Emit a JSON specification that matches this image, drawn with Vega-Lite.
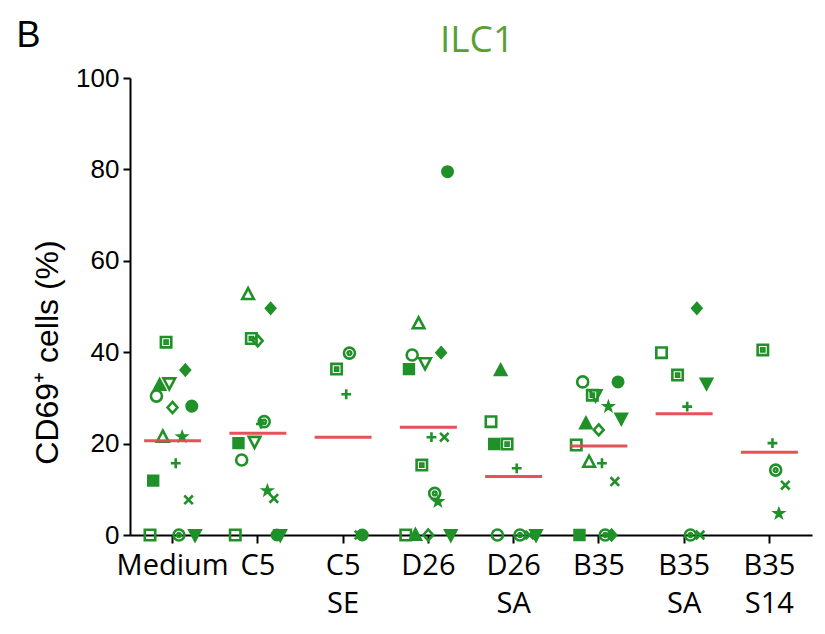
{
  "$schema": "https://vega.github.io/schema/vega-lite/v6.json",
  "width": 682,
  "height": 457,
  "autosize": "none",
  "padding": {"left": 130, "top": 78, "right": 13, "bottom": 99},
  "background": "white",
  "title": {
    "text": "ILC1",
    "font": "Open Sans",
    "fontSize": 37,
    "fontWeight": "normal",
    "color": "#5a9f35",
    "anchor": "middle",
    "frame": "group",
    "dx": 6,
    "dy": 47
  },
  "config": {
    "view": {"stroke": null},
    "axis": {"grid": false}
  },
  "data": {
    "values": [
      {"group": "Medium", "donor": "SD", "pct": 42.2},
      {"group": "Medium", "donor": "FD", "pct": 36.1},
      {"group": "Medium", "donor": "OTD", "pct": 33.2},
      {"group": "Medium", "donor": "FTU", "pct": 32.8},
      {"group": "Medium", "donor": "OC", "pct": 30.4},
      {"group": "Medium", "donor": "OD", "pct": 27.9},
      {"group": "Medium", "donor": "FC", "pct": 28.2},
      {"group": "Medium", "donor": "OTU", "pct": 21.5},
      {"group": "Medium", "donor": "ST", "pct": 21.5},
      {"group": "Medium", "donor": "P", "pct": 15.7},
      {"group": "Medium", "donor": "FS", "pct": 11.9},
      {"group": "Medium", "donor": "X", "pct": 7.7},
      {"group": "Medium", "donor": "OS", "pct": 0},
      {"group": "Medium", "donor": "CD", "pct": 0},
      {"group": "Medium", "donor": "FTD", "pct": 0},
      {"group": "C5", "donor": "OTU", "pct": 52.7},
      {"group": "C5", "donor": "FD", "pct": 49.6},
      {"group": "C5", "donor": "SD", "pct": 43.0},
      {"group": "C5", "donor": "OD", "pct": 42.5},
      {"group": "C5", "donor": "CD", "pct": 24.8},
      {"group": "C5", "donor": "P", "pct": 24.3},
      {"group": "C5", "donor": "OTD", "pct": 20.4},
      {"group": "C5", "donor": "FS", "pct": 20.1},
      {"group": "C5", "donor": "OC", "pct": 16.4},
      {"group": "C5", "donor": "ST", "pct": 9.7},
      {"group": "C5", "donor": "X", "pct": 8.0},
      {"group": "C5", "donor": "FC", "pct": 0},
      {"group": "C5", "donor": "OS", "pct": 0},
      {"group": "C5", "donor": "FTD", "pct": 0},
      {"group": "C5 SE", "donor": "CD", "pct": 39.8},
      {"group": "C5 SE", "donor": "SD", "pct": 36.3},
      {"group": "C5 SE", "donor": "P", "pct": 30.8},
      {"group": "C5 SE", "donor": "X", "pct": 0},
      {"group": "C5 SE", "donor": "FC", "pct": 0},
      {"group": "D26", "donor": "FC", "pct": 79.5},
      {"group": "D26", "donor": "OTU", "pct": 46.3},
      {"group": "D26", "donor": "FD", "pct": 39.9},
      {"group": "D26", "donor": "OC", "pct": 39.4},
      {"group": "D26", "donor": "OTD", "pct": 37.6},
      {"group": "D26", "donor": "FS", "pct": 36.3},
      {"group": "D26", "donor": "P", "pct": 21.4},
      {"group": "D26", "donor": "X", "pct": 21.4},
      {"group": "D26", "donor": "SD", "pct": 15.3},
      {"group": "D26", "donor": "CD", "pct": 9.1},
      {"group": "D26", "donor": "ST", "pct": 7.3},
      {"group": "D26", "donor": "OS", "pct": 0},
      {"group": "D26", "donor": "OD", "pct": 0},
      {"group": "D26", "donor": "FTD", "pct": 0},
      {"group": "D26", "donor": "FTU", "pct": 0},
      {"group": "D26 SA", "donor": "FTU", "pct": 36.0},
      {"group": "D26 SA", "donor": "OS", "pct": 24.8},
      {"group": "D26 SA", "donor": "SD", "pct": 19.9},
      {"group": "D26 SA", "donor": "FS", "pct": 19.9},
      {"group": "D26 SA", "donor": "P", "pct": 14.6},
      {"group": "D26 SA", "donor": "X", "pct": 0},
      {"group": "D26 SA", "donor": "OC", "pct": 0},
      {"group": "D26 SA", "donor": "CD", "pct": 0},
      {"group": "D26 SA", "donor": "FTD", "pct": 0},
      {"group": "B35", "donor": "OC", "pct": 33.5},
      {"group": "B35", "donor": "FC", "pct": 33.5},
      {"group": "B35", "donor": "OTD", "pct": 30.6},
      {"group": "B35", "donor": "SD", "pct": 30.6},
      {"group": "B35", "donor": "ST", "pct": 28.1},
      {"group": "B35", "donor": "FTD", "pct": 25.5},
      {"group": "B35", "donor": "FTU", "pct": 24.4},
      {"group": "B35", "donor": "OD", "pct": 23.0},
      {"group": "B35", "donor": "OS", "pct": 19.7},
      {"group": "B35", "donor": "OTU", "pct": 16.0},
      {"group": "B35", "donor": "P", "pct": 15.7},
      {"group": "B35", "donor": "X", "pct": 11.7},
      {"group": "B35", "donor": "CD", "pct": 0},
      {"group": "B35", "donor": "FS", "pct": 0},
      {"group": "B35", "donor": "FD", "pct": 0},
      {"group": "B35 SA", "donor": "FD", "pct": 49.6},
      {"group": "B35 SA", "donor": "OS", "pct": 39.9},
      {"group": "B35 SA", "donor": "SD", "pct": 35.0},
      {"group": "B35 SA", "donor": "FTD", "pct": 33.2},
      {"group": "B35 SA", "donor": "P", "pct": 28.1},
      {"group": "B35 SA", "donor": "CD", "pct": 0},
      {"group": "B35 SA", "donor": "X", "pct": 0},
      {"group": "B35 S14", "donor": "SD", "pct": 40.5},
      {"group": "B35 S14", "donor": "P", "pct": 20.1},
      {"group": "B35 S14", "donor": "CD", "pct": 14.2},
      {"group": "B35 S14", "donor": "X", "pct": 10.9},
      {"group": "B35 S14", "donor": "ST", "pct": 4.7}
    ]
  },
  "layer": [
    {
      "mark": {"type": "point", "filled": true, "size": 150, "strokeWidth": 2.6, "stroke": "#1f9128", "opacity": 1},
      "encoding": {
        "x": {
          "field": "group",
          "type": "nominal",
          "sort": ["Medium", "C5", "C5 SE", "D26", "D26 SA", "B35", "B35 SA", "B35 S14"],
          "scale": {"paddingInner": 0, "paddingOuter": 0},
          "axis": {
            "title": null,
            "labelAngle": 0,
            "labelExpr": "split(datum.label, ' ')",
            "labelFont": "Open Sans",
            "labelFontSize": 29,
            "labelColor": "black",
            "labelLineHeight": 38,
            "labelPadding": 8,
            "labelBaseline": "top",
            "domainColor": "black",
            "domainWidth": 2,
            "tickColor": "black",
            "tickWidth": 2,
            "tickSize": 8
          }
        },
        "xOffset": {
          "field": "donor",
          "type": "nominal",
          "sort": ["OS", "FS", "OC", "FTU", "OTU", "SD", "OTD", "OD", "P", "CD", "ST", "FD", "X", "FC", "FTD"],
          "scale": {"range": [20, 65], "paddingInner": 0, "paddingOuter": 0}
        },
        "y": {
          "field": "pct",
          "type": "quantitative",
          "scale": {"domain": [0, 100]},
          "axis": {
            "title": "CD69⁺ cells (%)",
            "titleFont": "Liberation Sans",
            "titleFontSize": 32,
            "titleFontWeight": "normal",
            "titleColor": "black",
            "titleX": -66,
            "titleY": 274,
            "values": [0, 20, 40, 60, 80, 100],
            "labelFont": "Liberation Sans",
            "labelFontSize": 26,
            "labelColor": "black",
            "labelPadding": 4,
            "domainColor": "black",
            "domainWidth": 2,
            "tickColor": "black",
            "tickWidth": 2,
            "tickSize": 7
          }
        },
        "shape": {
          "field": "donor",
          "type": "nominal",
          "legend": null,
          "scale": {
            "domain": ["FC", "FS", "FTU", "FTD", "FD", "OC", "OS", "OTU", "OTD", "OD", "P", "X", "ST", "CD", "SD"],
            "range": [
              "M0.85,0A0.85,0.85,0,1,1,-0.85,0A0.85,0.85,0,1,1,0.85,0Z",
              "M-0.8,-0.8H0.8V0.8H-0.8Z",
              "M0,-0.95L0.9,0.75H-0.9Z",
              "M0,0.95L0.9,-0.75H-0.9Z",
              "M0,-0.85L0.75,0L0,0.85L-0.75,0Z",
              "M0.9,0A0.9,0.9,0,1,1,-0.9,0A0.9,0.9,0,1,1,0.9,0Z",
              "M-0.85,-0.85H0.85V0.85H-0.85Z",
              "M0,-1L0.95,0.8H-0.95Z",
              "M0,1L0.95,-0.8H-0.95Z",
              "M0,-0.9L0.8,0L0,0.9L-0.8,0Z",
              "M-0.8,0H0.8M0,-0.8V0.8",
              "M-0.7,-0.7L0.7,0.7M-0.7,0.7L0.7,-0.7",
              "M0,-0.65L0.16,-0.2L0.62,-0.2L0.25,0.08L0.38,0.53L0,0.26L-0.38,0.53L-0.25,0.08L-0.62,-0.2L-0.16,-0.2Z",
              "M0.9,0A0.9,0.9,0,1,1,-0.9,0A0.9,0.9,0,1,1,0.9,0ZM0.3,0A0.3,0.3,0,1,1,-0.3,0A0.3,0.3,0,1,1,0.3,0Z",
              "M-0.85,-0.85H0.85V0.85H-0.85ZM-0.25,-0.25H0.25V0.25H-0.25Z"
            ]
          }
        },
        "fill": {
          "field": "donor",
          "type": "nominal",
          "legend": null,
          "scale": {
            "domain": ["FC", "FS", "FTU", "FTD", "FD", "OC", "OS", "OTU", "OTD", "OD", "P", "X", "ST", "CD", "SD"],
            "range": ["#1f9128", "#1f9128", "#1f9128", "#1f9128", "#1f9128", "transparent", "transparent", "transparent", "transparent", "transparent", "transparent", "transparent", "#1f9128", "transparent", "transparent"]
          }
        }
      }
    },
    {
      "mark": {"type": "tick", "color": "#e4494e", "thickness": 3, "size": 57, "orient": "horizontal", "opacity": 0.95},
      "encoding": {
        "x": {
          "field": "group",
          "type": "nominal",
          "sort": ["Medium", "C5", "C5 SE", "D26", "D26 SA", "B35", "B35 SA", "B35 S14"],
          "axis": {
            "orient": "top",
            "labels": false,
            "ticks": false,
            "domain": false,
            "title": "B",
            "titleFont": "Liberation Sans",
            "titleFontSize": 36,
            "titleFontWeight": "normal",
            "titleColor": "black",
            "titleAngle": 0,
            "titleAlign": "center",
            "titleBaseline": "middle",
            "titleX": -102,
            "titleY": -43
          }
        },
        "y": {"aggregate": "mean", "field": "pct", "type": "quantitative", "title": "CD69⁺ cells (%)"}
      }
    }
  ],
  "resolve": {"axis": {"x": "independent"}}
}
